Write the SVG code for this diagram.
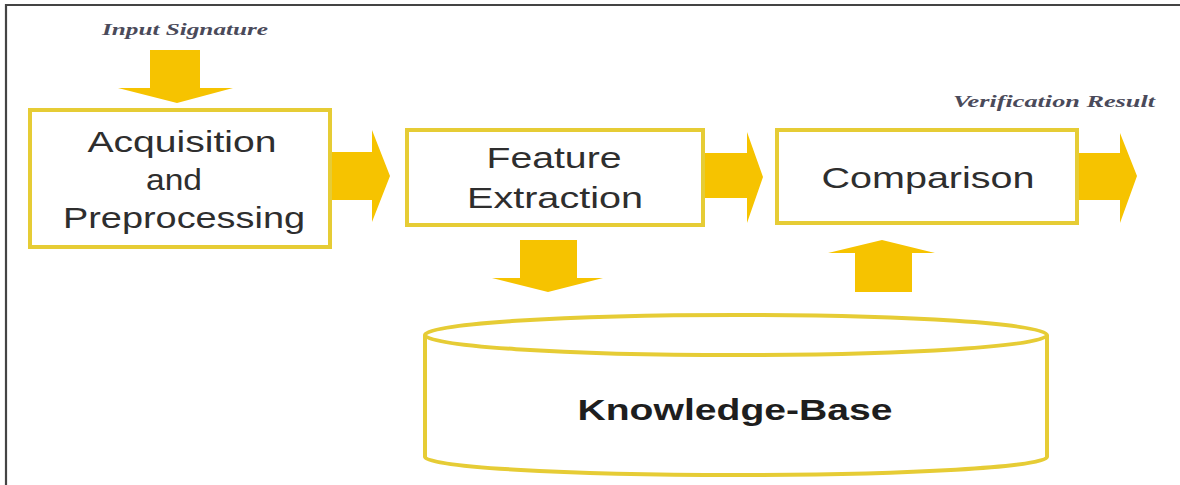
<svg xmlns="http://www.w3.org/2000/svg" width="1180" height="485" viewBox="0 0 1180 485">
<style>
.box{fill:#ffffff;stroke:#E6CC35;stroke-width:4}
.arrow{fill:#F6C300}
.lbl{font-family:"Liberation Sans",Arial,sans-serif;font-size:29px;fill:#2e2e2e;text-anchor:middle}
.kb{font-weight:bold;fill:#1e1e1e}
.note{font-family:"Liberation Serif","Times New Roman",serif;font-style:italic;font-weight:bold;font-size:16px;fill:#4a4a5a}
</style>
<rect width="1180" height="485" fill="#ffffff"/>
<path d="M6,485 V5 H1180" fill="none" stroke="#444444" stroke-width="2.2"/>
<g id="connectors">
<polygon class="arrow" points="150,50 200,50 200,88 233,88 177,103 118,88 150,88"/>
<polygon class="arrow" points="330,152 372,152 372,130 390,176 372,222 372,200 330,200"/>
<polygon class="arrow" points="703,153 747,153 747,132 763,177 747,223 747,198 703,198"/>
<polygon class="arrow" points="1077,153 1120,153 1120,133 1137,176 1120,223 1120,200 1077,200"/>
<polygon class="arrow" points="520,240 577,240 577,278 603,278 548,292 492,278 520,278"/>
<polygon class="arrow" points="855,292 912,292 912,253 935,253 882,240 828,253 855,253"/>
</g>
<g id="input-label">
<text class="note" x="185" y="35" text-anchor="middle" textLength="166" lengthAdjust="spacingAndGlyphs">Input Signature</text>
</g>
<g id="result-label">
<text class="note" x="1054" y="107" text-anchor="middle" textLength="202" lengthAdjust="spacingAndGlyphs">Verification Result</text>
</g>
<g id="acquisition">
<rect class="box" x="30" y="110" width="300" height="137"/>
<text class="lbl" x="182" y="152" textLength="189" lengthAdjust="spacingAndGlyphs">Acquisition</text>
<text class="lbl" x="174" y="190" textLength="56" lengthAdjust="spacingAndGlyphs">and</text>
<text class="lbl" x="184" y="228" textLength="242" lengthAdjust="spacingAndGlyphs">Preprocessing</text>
</g>
<g id="feature-extraction">
<rect class="box" x="407" y="130" width="296" height="95"/>
<text class="lbl" x="554" y="168" textLength="135" lengthAdjust="spacingAndGlyphs">Feature</text>
<text class="lbl" x="555" y="208" textLength="176" lengthAdjust="spacingAndGlyphs">Extraction</text>
</g>
<g id="comparison">
<rect class="box" x="777" y="130" width="300" height="93"/>
<text class="lbl" x="928" y="188" textLength="213" lengthAdjust="spacingAndGlyphs">Comparison</text>
</g>
<g id="knowledge-base">
<path class="box" d="M425,335 V457 A311,18 0 0 0 1047,457 V335"/>
<ellipse class="box" cx="736" cy="335" rx="311" ry="20"/>
<text class="lbl kb" x="735" y="420" textLength="315" lengthAdjust="spacingAndGlyphs">Knowledge-Base</text>
</g>
</svg>
